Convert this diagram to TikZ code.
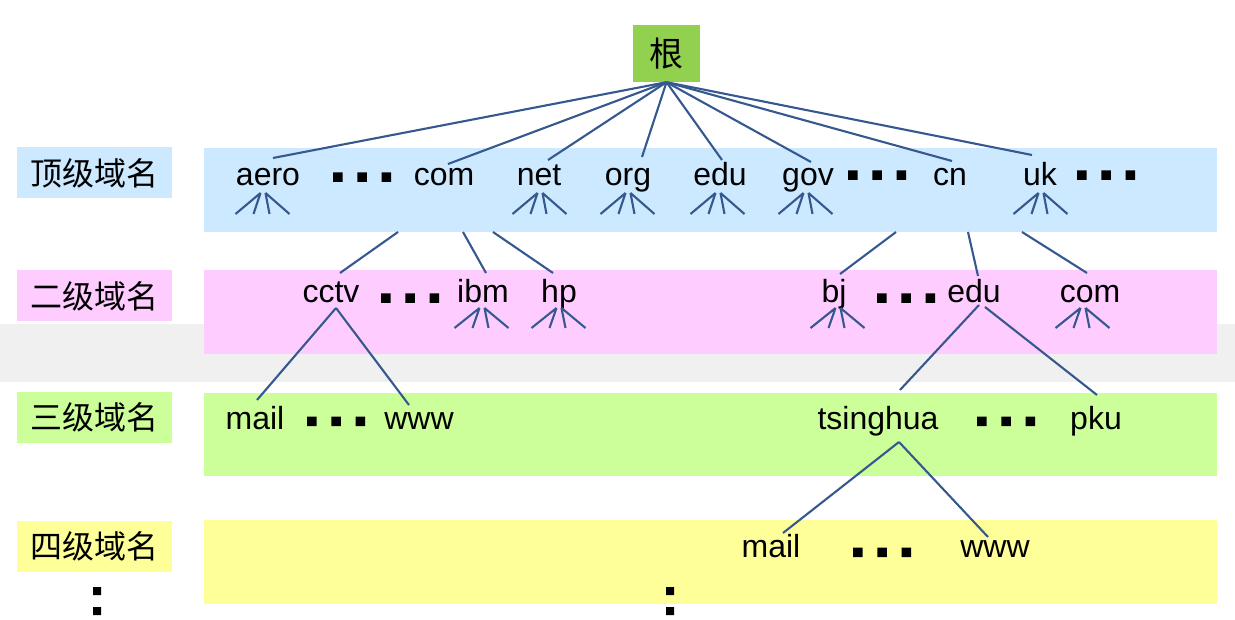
\documentclass[tikz,border=0pt]{standalone}
\usepackage{fontspec}
\setmainfont{Liberation Sans}
\newfontfamily\cjk{Noto Sans CJK SC}
\definecolor{lineblue}{HTML}{35598F}
\definecolor{bandblue}{HTML}{CCE9FF}
\definecolor{bandpink}{HTML}{FFCCFF}
\definecolor{bandgreen}{HTML}{CCFF99}
\definecolor{bandyellow}{HTML}{FFFF99}
\definecolor{rootgreen}{HTML}{92D050}
\definecolor{grayband}{HTML}{F0F0F0}
\begin{document}
\begin{tikzpicture}[x=1pt,y=-1pt,
  ln/.style={draw=lineblue,line width=2.1pt},
  lbl/.style={font=\fontsize{32}{38}\selectfont,inner sep=0pt,anchor=base,text height=23pt,text depth=0pt},
  lvl/.style={font=\cjk\fontsize{32}{38}\selectfont,inner sep=0pt,minimum width=155pt,minimum height=51pt},
  subfan/.pic={\draw[ln] (-2.5,0) -- (-27.5,21) (-2.5,0) -- (-9.5,21) (2.5,0) -- (6.5,21) (2.5,0) -- (26.5,21);},
  subfanb/.pic={\draw[ln] (-2.5,0) -- (-27.5,20) (-2.5,0) -- (-9.5,20) (2.5,0) -- (6.5,20) (2.5,0) -- (26.5,20);},
  tridots/.pic={\fill[black] (-29,-4.5) rectangle ++(9.5,9.5) (-4.75,-4.5) rectangle ++(9.5,9.5) (19.5,-4.5) rectangle ++(9.5,9.5);}]
\useasboundingbox (0,0) rectangle (1235,620);
\fill[white] (0,0) rectangle (1235,620);
% background bands
\fill[grayband] (0,324) rectangle (1235,382);
\fill[bandblue] (204,148) rectangle (1217,232);
\fill[bandpink] (204,270) rectangle (1217,354);
\fill[bandgreen] (204,393) rectangle (1217,476);
\fill[bandyellow] (204,520) rectangle (1217,604);
% level labels
\node[lvl,fill=bandblue] (L1) at (94.5,173) {顶级域名};
\node[lvl,fill=bandpink] (L2) at (94.5,296) {二级域名};
\node[lvl,fill=bandgreen] (L3) at (94.5,417.5) {三级域名};
\node[lvl,fill=bandyellow] (L4) at (94.5,546) {四级域名};
% root
\node[fill=rootgreen,minimum width=67pt,minimum height=57pt,inner sep=0pt,font=\cjk\fontsize{34}{40}\selectfont] (root) at (666.5,53.5) {根};
% top-level
\node[lbl] (aero) at (268,186) {aero};
\node[lbl] (com) at (444,186) {com};
\node[lbl] (net) at (539,186) {net};
\node[lbl] (org) at (628,186) {org};
\node[lbl] (edu1) at (720,186) {edu};
\node[lbl] (gov) at (808,186) {gov};
\node[lbl] (cn) at (950,186) {cn};
\node[lbl] (uk) at (1040,186) {uk};
% second level
\node[lbl] (cctv) at (331,303) {cctv};
\node[lbl] (ibm) at (483,303) {ibm};
\node[lbl] (hp) at (559,303) {hp};
\node[lbl] (bj) at (834,303) {bj};
\node[lbl] (edu2) at (974,303) {edu};
\node[lbl] (com2) at (1090,303) {com};
% third level
\node[lbl] (mail1) at (255,429) {mail};
\node[lbl] (www1) at (419,429) {www};
\node[lbl] (tsinghua) at (878,429) {tsinghua};
\node[lbl] (pku) at (1096,429) {pku};
% fourth level
\node[lbl] (mail2) at (771,557) {mail};
\node[lbl] (www2) at (995,557) {www};
% dots
\pic at (362,177) {tridots};
\pic at (877,175) {tridots};
\pic at (1106,175) {tridots};
\pic at (410,298) {tridots};
\pic at (906,298) {tridots};
\pic at (336,421) {tridots};
\pic at (1006,421) {tridots};
\pic at (882,552) {tridots};
\fill[black] (93,587) rectangle (101,595) (93,607) rectangle (101,615);
\fill[black] (666,587) rectangle (674,595) (666,607) rectangle (674,615);
% root connectors
\foreach \n/\dx/\dy in {aero/5/28,com/4/22,net/9/26,org/14/29,edu1/2/26,gov/3/24,cn/2/25,uk/-8/31}
  \draw[ln] (root.south) -- ([xshift=\dx pt,yshift=\dy pt]\n.base);
% fans
\foreach \n/\dx in {aero/-5,net/1,org/0,edu1/-2,gov/-2,uk/1}
  \pic at ([xshift=\dx pt,yshift=-7pt]\n.base) {subfan};
\foreach \n/\dx in {ibm/-1,hp/0,bj/4,com2/-7}
  \pic at ([xshift=\dx pt,yshift=-5pt]\n.base) {subfanb};
% top-level to second level
\coordinate (s1) at (398,232);
\coordinate (s2) at (463,232);
\coordinate (s3) at (493,232);
\coordinate (s4) at (896,232);
\coordinate (s5) at (968,232);
\coordinate (s6) at (1022,232);
\draw[ln] (s1) -- ([xshift=9pt,yshift=30pt]cctv.base);
\draw[ln] (s2) -- ([xshift=3pt,yshift=30pt]ibm.base);
\draw[ln] (s3) -- ([xshift=-6pt,yshift=30pt]hp.base);
\draw[ln] (s4) -- ([xshift=6pt,yshift=29pt]bj.base);
\draw[ln] (s5) -- ([xshift=4pt,yshift=27pt]edu2.base);
\draw[ln] (s6) -- ([xshift=-3pt,yshift=30pt]com2.base);
% second to third level
\draw[ln] ([xshift=5pt,yshift=-5pt]cctv.base) -- ([xshift=2pt,yshift=29pt]mail1.base);
\draw[ln] ([xshift=5pt,yshift=-5pt]cctv.base) -- ([xshift=-10pt,yshift=24pt]www1.base);
\draw[ln] ([xshift=5pt,yshift=-2pt]edu2.base) -- ([xshift=22pt,yshift=39pt]tsinghua.base);
\draw[ln] ([xshift=11pt,yshift=-4pt]edu2.base) -- ([xshift=1pt,yshift=34pt]pku.base);
% third to fourth level
\draw[ln] ([xshift=21pt,yshift=-13pt]tsinghua.base) -- ([xshift=12pt,yshift=24pt]mail2.base);
\draw[ln] ([xshift=21pt,yshift=-13pt]tsinghua.base) -- ([xshift=-7pt,yshift=20pt]www2.base);
\end{tikzpicture}
\end{document}
